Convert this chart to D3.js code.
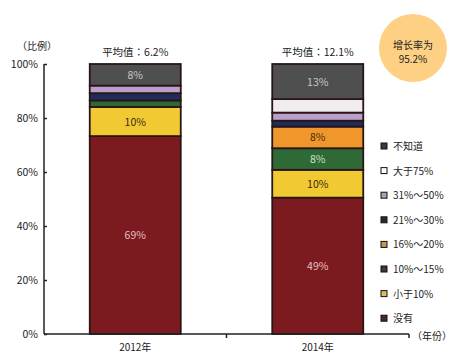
<!DOCTYPE html>
<html><head><meta charset="utf-8">
<script src="https://cdn.jsdelivr.net/npm/d3@7"></script>
<style>body{margin:0;background:#fff}svg{display:block;font-family:"Noto Sans CJK JP","Noto Sans CJK SC",sans-serif}</style>
</head><body><svg id="c" width="473" height="356"></svg>
<script>
const years = ["2012年", "2014年"];
const categories = ["没有", "小于10%", "10%～15%", "16%～20%", "21%～30%", "31%～50%", "大于75%", "不知道"];
const values2012 = [73.3, 10.8, 2.4, 0, 2.7, 2.8, 0, 8];
const values2014 = [50.5, 10.3, 8, 8, 2.2, 3, 5, 13];
const labels2012 = ["69%", "10%", "", "", "", "", "", "8%"];
const labels2014 = ["49%", "10%", "8%", "8%", "", "", "", "13%"];
const averages = ["平均值：6.2%", "平均值：12.1%"];
const yTicks = [0, 20, 40, 60, 80, 100];
const growth = ["增长率为", "95.2%"];

const colors = ["#7b1a1f", "#f1c932", "#2f6a36", "#f0972b", "#1f2d5b", "#b99fc9", "#efedf0", "#4f4f4f"];
const labelColors = ["#e8c0c0", "#3a2a10", "#c8e0c8", "#4a2a10", "#fff", "#fff", "#333", "#c8c8c8"];
const legendColors = ["#4a2a2e", "#d8c060", "#3a3a3a", "#c89850", "#2a2a2a", "#a8a0b8", "#ffffff", "#3a3a3a"];

const svg = d3.select("#c");
const y = d3.scaleLinear().domain([0, 100]).range([334, 64]);
const x = d3.scaleBand().domain(years).range([44, 409]).paddingInner(0).paddingOuter(0);
const barW = 91;

const data = [values2012, values2014];
const labs = [labels2012, labels2014];

years.forEach((yr, i) => {
  const cx = x(yr) + x.bandwidth() / 2;
  let cum = 0;
  data[i].forEach((v, k) => {
    const y0 = cum, y1 = cum + v;
    cum = y1;
    if (v <= 0) return;
    svg.append("rect")
      .attr("x", cx - barW / 2).attr("width", barW)
      .attr("y", y(y1)).attr("height", y(y0) - y(y1))
      .attr("fill", colors[k]).attr("stroke", "#2a1516").attr("stroke-width", 1.8);
    if (labs[i][k]) {
      svg.append("text").attr("x", cx).attr("y", (y(y0) + y(y1)) / 2 + 4)
        .attr("text-anchor", "middle").attr("font-size", 10.5)
        .attr("fill", labelColors[k]).text(labs[i][k]);
    }
  });
  svg.append("text").attr("x", cx).attr("y", 56).attr("text-anchor", "middle")
    .attr("font-size", 10.5).attr("fill", "#222").text(averages[i]);
  svg.append("text").attr("x", cx).attr("y", 351).attr("text-anchor", "middle")
    .attr("font-size", 10).attr("fill", "#222").text(yr);
});

// y axis
const yAxis = d3.axisRight(y).tickValues(yTicks).tickSize(3).tickFormat(d => d + "%");
const ga = svg.append("g").attr("transform", "translate(44,0)").call(yAxis);
ga.select(".domain").attr("d", "M0,64V334").attr("stroke", "#222").attr("stroke-width", 1.5);
ga.selectAll(".tick line").attr("stroke", "#222").attr("stroke-width", 1.5);
ga.selectAll(".tick text").attr("x", -6).attr("text-anchor", "end").attr("font-size", 10.5)
  .attr("fill", "#222").attr("font-family", "'Noto Sans CJK JP',sans-serif");

// x axis
svg.append("line").attr("x1", 44).attr("x2", 409).attr("y1", 334).attr("y2", 334).attr("stroke", "#222").attr("stroke-width", 1.5);
[x("2014年"), 409].forEach(px => svg.append("line").attr("x1", px).attr("x2", px).attr("y1", 334).attr("y2", 338).attr("stroke", "#222").attr("stroke-width", 1.5));

svg.append("text").attr("x", 37).attr("y", 50).attr("text-anchor", "middle").attr("font-size", 10).attr("fill", "#222").text("（比例）");
svg.append("text").attr("x", 432).attr("y", 340).attr("text-anchor", "middle").attr("font-size", 10).attr("fill", "#222").text("（年份）");

// legend
const order = [7, 6, 5, 4, 3, 2, 1, 0];
order.forEach((k, j) => {
  const ly = 146 + j * 24.6;
  svg.append("rect").attr("x", 381).attr("y", ly - 3).attr("width", 6).attr("height", 6)
    .attr("fill", legendColors[k]).attr("stroke", "#111").attr("stroke-width", 1);
  svg.append("text").attr("x", 393).attr("y", ly + 4).attr("font-size", 10).attr("fill", "#222").text(categories[k]);
});

// growth circle
svg.append("circle").attr("cx", 413).attr("cy", 48).attr("r", 34).attr("fill", "#fdd083");
svg.append("text").attr("x", 413).attr("y", 49).attr("text-anchor", "middle").attr("font-size", 10).attr("fill", "#222").text(growth[0]);
svg.append("text").attr("x", 413).attr("y", 63).attr("text-anchor", "middle").attr("font-size", 10).attr("fill", "#222").text(growth[1]);
</script></body></html>
